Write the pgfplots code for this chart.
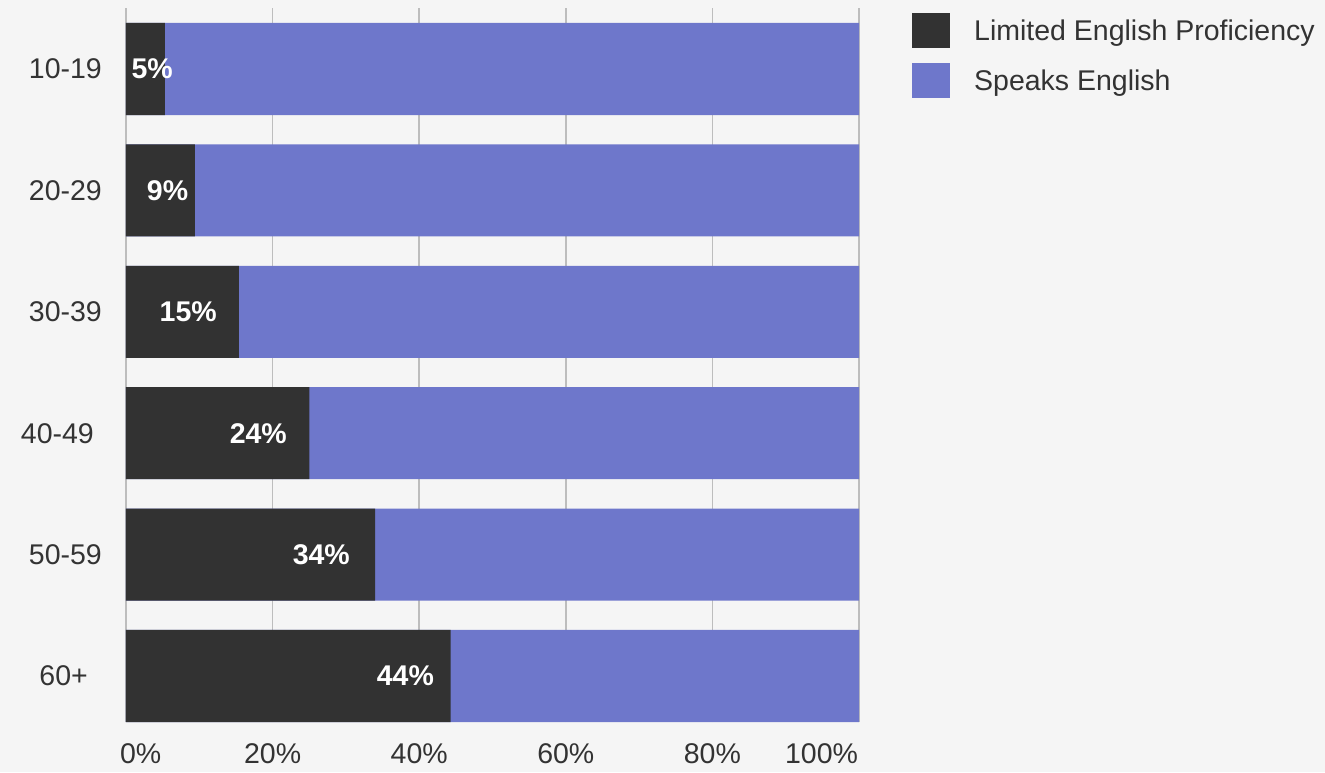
\documentclass[border=0pt]{standalone}
\usepackage{pgfplots}
\pgfplotsset{compat=1.18}
\usepackage{fontspec}
\setmainfont{Liberation Sans}
\definecolor{bg}{HTML}{F5F5F5}
\definecolor{darkbar}{HTML}{323232}
\definecolor{purplebar}{HTML}{6E77CB}
\definecolor{gridc}{HTML}{BDBDBD}
\definecolor{txt}{HTML}{333333}
\newcommand{\lblfont}{\fontsize{28.5}{34}\selectfont}
\begin{document}
\begin{tikzpicture}[x=1pt,y=1pt]
\path[use as bounding box, fill=bg] (0,0) rectangle (1325,772);
\begin{axis}[
  at={(126pt,50pt)}, anchor=south west,
  width=733pt, height=714pt, scale only axis,
  xmin=0, xmax=100, ymin=-0.379, ymax=5.5025,
  axis line style={draw=none},
  major tick length=0pt,
  xmajorgrids, grid style={gridc, line width=1.5pt},
  xtick={0,20,40,60,80,100},
  xticklabels={\makebox[0pt][l]{\kern-6pt 0\%},20\%,40\%,60\%,80\%,\makebox[0pt][r]{100\%\kern1pt}},
  xticklabel style={font=\lblfont, text=txt, inner sep=0pt, anchor=north, yshift=-21pt},
  ytick={0,1,2,3,4,5},
  yticklabels={{60+\kern14pt},50-59,{40-49\kern8pt},30-39,20-29,10-19},
  yticklabel style={font=\lblfont, text=txt, inner sep=0pt, anchor=east, xshift=-24pt},
  legend image code/.code={\fill[#1] (0pt,-17.5pt) rectangle (38pt,17.5pt);},
  reverse legend,
  legend style={at={(rel axis cs:1.0723,0.993)}, anchor=north west, draw=none, fill=none,
    inner sep=0pt, row sep=15pt, column sep=0pt,
    font=\lblfont, text=txt,
    nodes={inner sep=0pt}},
  legend cell align=left,
  clip=false,
]
\addplot[xbar, bar shift=0pt, bar width=0.758, fill=purplebar, draw=none]
  coordinates {(100,5) (100,4) (100,3) (100,2) (100,1) (100,0)};
\addlegendentry{\kern24pt Speaks English}
\addplot[xbar, bar shift=0pt, bar width=0.758, fill=darkbar, draw=none]
  coordinates {(5.3,5) (9.4,4) (15.4,3) (25.0,2) (34.0,1) (44.3,0)};
\addlegendentry{\kern24pt Limited English Proficiency}
\addplot[forget plot, only marks, mark=none, nodes near coords, point meta=explicit symbolic,
  every node near coord/.append style={anchor=east, inner sep=0pt, text=white, font=\lblfont\bfseries}]
  table[meta=label] {
x y label
6.41 5 5\%
8.51 4 9\%
12.41 3 15\%
21.97 2 24\%
30.56 1 34\%
42.03 0 44\%
};
\end{axis}
\end{tikzpicture}
\end{document}
